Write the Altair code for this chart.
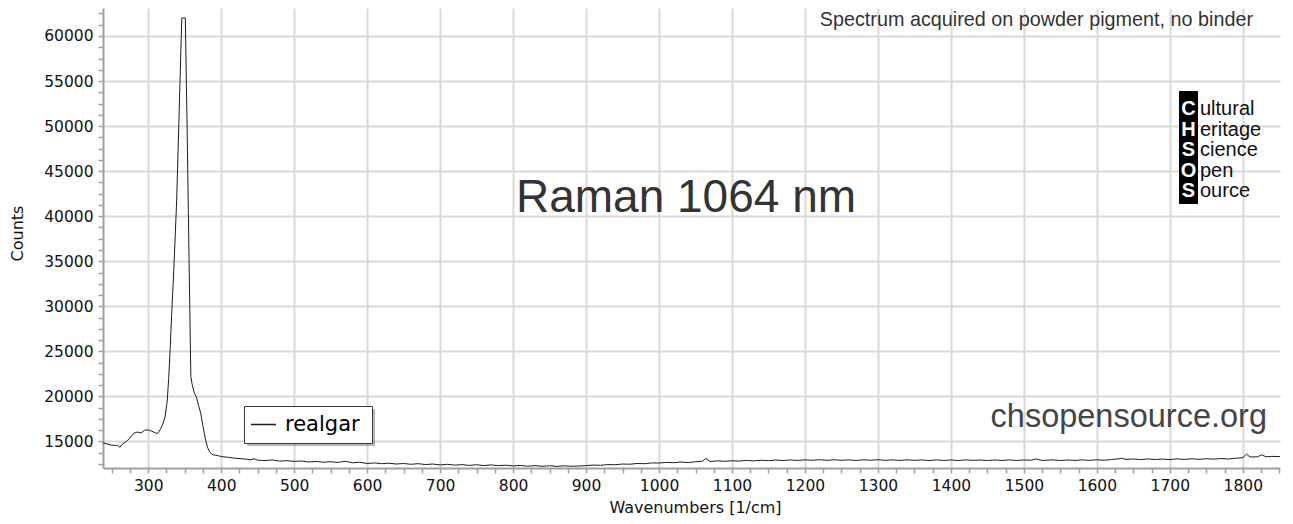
import altair as alt
import pandas as pd

# ---------------- data ----------------
series_name = "realgar"

wavenumbers = [
    238, 245, 250, 255, 258, 261, 265, 270, 275, 280, 285, 290, 295, 300, 305, 310, 313,
    317, 320, 323, 326, 328, 330, 332, 335, 339, 343.5, 346, 350.8, 353, 355, 357, 358.4,
    360, 363, 366, 369, 372, 375, 378, 381, 384, 388, 392, 396,
    400, 410, 420, 430, 440, 445, 450, 460, 470, 480, 490, 500, 510, 520, 530, 540, 550,
    560, 570, 580, 590, 600, 610, 620, 630, 640, 650, 660, 670, 680, 690, 700, 710, 720,
    730, 740, 750, 760, 770, 780, 790, 800, 810, 820, 830, 840, 850, 860, 870, 880, 890,
    900, 910, 920, 930, 940, 950, 960, 970, 980, 990, 1000, 1010, 1020, 1030, 1040, 1050,
    1060, 1064, 1070, 1080, 1090, 1100, 1110, 1120, 1130, 1140, 1150, 1160, 1170, 1180,
    1190, 1200, 1210, 1220, 1230, 1240, 1250, 1260, 1270, 1280, 1290, 1300, 1310, 1320,
    1330, 1340, 1350, 1360, 1370, 1380, 1390, 1400, 1410, 1420, 1430, 1440, 1450, 1460,
    1470, 1480, 1490, 1500, 1510, 1516, 1525, 1540, 1550, 1560, 1570, 1580, 1590, 1600,
    1610, 1620, 1630, 1634, 1640, 1650, 1660, 1670, 1680, 1690, 1700, 1710, 1720, 1730,
    1740, 1750, 1760, 1770, 1780, 1790, 1800, 1805, 1810, 1820, 1826, 1832, 1840, 1851,
]

counts = [
    14850, 14700, 14600, 14550, 14600, 14350, 14750, 15000, 15400, 15900, 16050, 15950, 16250, 16280, 16150, 15950, 15900,
    16400, 16950, 17700, 19500, 22000, 25200, 28900, 34000, 41800, 54800, 62000, 62000, 51200, 40400, 29600, 22200,
    21400, 20400, 19950, 19000, 18100, 16700, 15400, 14400, 13850, 13550, 13480, 13420,
    13330, 13240, 13130, 13080, 12980, 13080, 12930, 12880, 12950, 12820, 12870, 12790, 12840, 12730, 12790, 12700, 12760,
    12680, 12800, 12640, 12700, 12560, 12620, 12540, 12590, 12500, 12560, 12470, 12540, 12440, 12500, 12400, 12470, 12380,
    12430, 12350, 12420, 12330, 12400, 12320, 12370, 12290, 12340, 12260, 12320, 12250, 12310, 12240, 12300, 12250, 12280,
    12320, 12380, 12360, 12440, 12420, 12500, 12480, 12560, 12540, 12620, 12610, 12680, 12650, 12720, 12660, 12760,
    12820, 13130, 12780, 12850, 12800, 12860, 12830, 12900, 12850, 12920, 12870, 12940, 12890, 12950,
    12900, 12960, 12920, 12980, 12910, 12970, 12920, 12960, 12900, 12970, 12920, 12980, 12910, 12960,
    12900, 12970, 12910, 12950, 12890, 12960, 12900, 12950, 12890, 12960, 12910, 12940, 12890, 12950,
    12900, 12960, 12900, 12950, 12920, 13070, 12900, 12960, 12890, 12950, 12900, 12960, 12910, 12970,
    12920, 13000, 13080, 13150, 13010, 13060, 12990, 13060, 13000, 13050, 12990, 13070, 13010, 13080,
    13020, 13090, 13040, 13110, 13060, 13140, 13200, 13600, 13280, 13300, 13520, 13300, 13350, 13320,
]

x_ticks = list(range(250, 1851, 25))          # 25 cm-1 minor, labelled every 100
y_ticks = list(range(12500, 63001, 1250))     # 1250 minor, labelled every 5000

logo_letters = ["C", "H", "S", "O", "S"]
logo_words = ["ultural", "eritage", "cience", "pen", "ource"]

df = pd.DataFrame({"Wavenumber": wavenumbers, "Counts": counts, "Sample": series_name})

X_DOMAIN = [238, 1851]
Y_DOMAIN = [12059, 63107]

xs = alt.Scale(domain=X_DOMAIN, nice=False, zero=False)
ys = alt.Scale(domain=Y_DOMAIN, nice=False, zero=False)

one = alt.Data(values=[{}])

x_axis = alt.Axis(
    values=x_ticks,
    title="Wavenumbers [1/cm]",
    labelExpr="datum.value % 100 === 0 ? datum.label : ''",
    gridOpacity=alt.condition("datum.value % 100 === 0", alt.value(1), alt.value(0)),
    format="d",
    labelOverlap=False,
    labelFlush=False,
    tickSize=5,
    labelPadding=5,
    titleX=592,
    titleY=39,
    titleBaseline="middle",
    titleAlign="center",
)
y_axis = alt.Axis(
    values=y_ticks,
    title="Counts",
    labelExpr="datum.value % 5000 === 0 ? datum.label : ''",
    gridOpacity=alt.condition("datum.value % 5000 === 0", alt.value(1), alt.value(0)),
    format="d",
    labelOverlap=False,
    labelFlush=False,
    tickSize=5,
    labelPadding=5,
    titleX=-86,
    titleY=225,
    titleAngle=-90,
    titleBaseline="middle",
    titleAlign="center",
)

line = alt.Chart(df).mark_line(strokeWidth=1, clip=True).encode(
    x=alt.X("Wavenumber:Q", scale=xs, axis=x_axis),
    y=alt.Y("Counts:Q", scale=ys, axis=y_axis),
    color=alt.Color(
        "Sample:N",
        scale=alt.Scale(range=["#1e1e1e"]),
        legend=alt.Legend(
            title=None,
            orient="none",
            legendX=147,
            legendY=403,
            padding=0,
            symbolType="stroke",
            symbolSize=625,
            symbolStrokeWidth=1.5,
            symbolStrokeColor="#5a5a5a",
            labelFont="DejaVu Sans",
            labelFontSize=21,
            labelColor="#000000",
            labelOffset=8,
        ),
    ),
)

# legend frame and its drop shadow
legend_shadow = alt.Chart(one).mark_rect(color="#7a7a7a", opacity=0.55).encode(
    x=alt.value(144), x2=alt.value(272), y=alt.value(401), y2=alt.value(438)
)
legend_frame = alt.Chart(one).mark_rect(fill="white", stroke="#3a3a3a", strokeWidth=1).encode(
    x=alt.value(141.5), x2=alt.value(269.5), y=alt.value(398.5), y2=alt.value(435.5)
)

top_note = alt.Chart(one).mark_text(
    text="Spectrum acquired on powder pigment, no binder",
    font="Liberation Sans", fontSize=19.8, color="#333333", align="right", baseline="alphabetic",
).encode(x=alt.value(1150), y=alt.value(17.5))

big_title = alt.Chart(one).mark_text(
    text="Raman 1064 nm",
    font="Liberation Sans", fontSize=46, color="#333333", align="center", baseline="alphabetic",
).encode(x=alt.value(583), y=alt.value(204))

site = alt.Chart(one).mark_text(
    text="chsopensource.org",
    font="Liberation Sans", fontSize=32.5, color="#454545", align="right", baseline="alphabetic",
).encode(x=alt.value(1164), y=alt.value(419))

logo_box = alt.Chart(one).mark_rect(color="black").encode(
    x=alt.value(1076), x2=alt.value(1095), y=alt.value(83), y2=alt.value(196)
)
logo_caps = alt.Chart(one).mark_text(
    text=logo_letters, font="Liberation Sans", fontWeight="bold", fontSize=20,
    color="white", align="center", baseline="alphabetic", lineHeight=20.5,
).encode(x=alt.value(1085.5), y=alt.value(107))
logo_text = alt.Chart(one).mark_text(
    text=logo_words, font="Liberation Sans", fontSize=20,
    color="#111111", align="left", baseline="alphabetic", lineHeight=20.5,
).encode(x=alt.value(1097), y=alt.value(107))

chart = alt.layer(
    legend_shadow, legend_frame, line, top_note, big_title, site, logo_box, logo_caps, logo_text
).properties(
    width=1177,
    height=460,
    padding={"left": 95, "top": 0, "right": 5, "bottom": 48},
    autosize=alt.AutoSizeParams(type="none"),
).configure_view(
    strokeWidth=0
).configure_axis(
    domainColor="#a0a0a0",
    domainWidth=2,
    tickColor="#a0a0a0",
    tickWidth=1.5,
    gridColor="#d9d9d9",
    gridWidth=2,
    labelFont="DejaVu Sans",
    labelFontSize=15.5,
    labelColor="#111111",
    titleFont="DejaVu Sans",
    titleFontSize=16,
    titleFontWeight="normal",
    titleColor="#111111",
)

chart.save("out.html", embed_options={"renderer": "svg", "actions": False})
